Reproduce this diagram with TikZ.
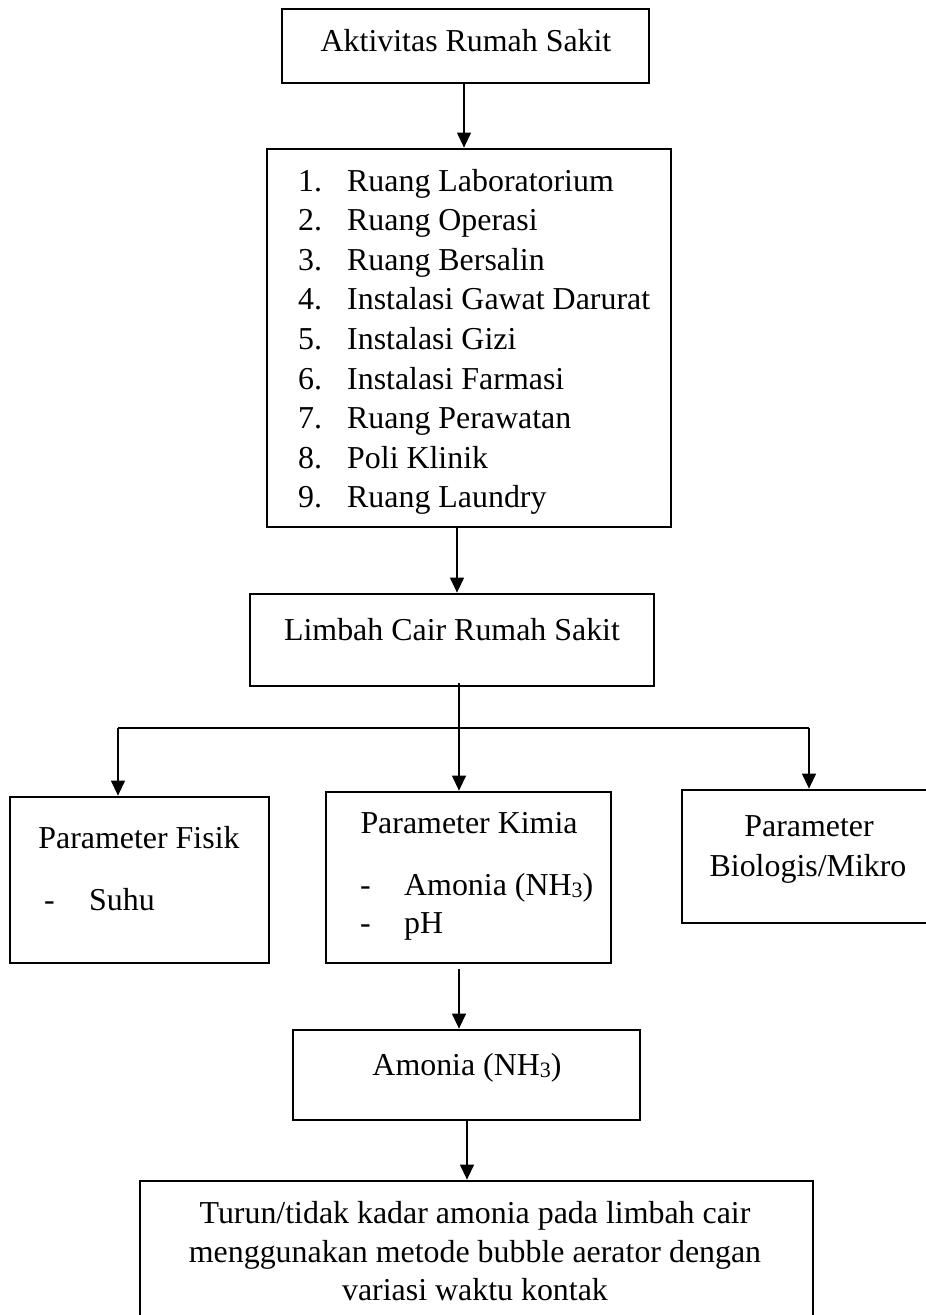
\documentclass[tikz,border=0pt]{standalone}
\usepackage{fontspec}
\setmainfont{Liberation Serif}
\usetikzlibrary{arrows.meta}
\newcommand\figfont{\fontsize{31.9pt}{39.5pt}\selectfont}
\begin{document}
\begin{tikzpicture}[x=1pt,y=-1pt,
  box/.style={draw, line width=2.8pt, inner sep=0pt, rectangle},
  txt/.style={inner sep=0pt, anchor=base, font=\figfont},
  ltxt/.style={inner sep=0pt, anchor=base west, font=\figfont},
  arr/.style={line width=1.3pt, -{Triangle[width=14pt,length=15pt]}},
  ln/.style={line width=1.3pt}]
\useasboundingbox (0,0) rectangle (926,1315);
% boxes
\node[box, minimum width=367pt, minimum height=74pt]  (akt)    at (465.5,46)   {};
\node[box, minimum width=404pt, minimum height=378pt] (list)   at (469,338)    {};
\node[box, minimum width=404pt, minimum height=92pt]  (limbah) at (452,640)    {};
\node[box, minimum width=259pt, minimum height=166pt] (fisik)  at (139.5,880)  {};
\node[box, minimum width=285pt, minimum height=171pt] (kimia)  at (468.5,877.5){};
\node[box, minimum width=250pt, minimum height=133pt] (bio)    at (807,856.5)  {};
\node[box, minimum width=347pt, minimum height=90pt]  (amon)   at (466.5,1075) {};
\node[box, minimum width=673pt, minimum height=154pt] (hasil)  at (476.5,1258) {};
% texts
\node[txt] (takt) at (466,51) {Aktivitas Rumah Sakit};
\foreach \i/\t in {1/Ruang Laboratorium,2/Ruang Operasi,3/Ruang Bersalin,4/Instalasi Gawat Darurat,5/Instalasi Gizi,6/Instalasi Farmasi,7/Ruang Perawatan,8/Poli Klinik,9/Ruang Laundry}{
  \node[ltxt] (l\i) at (298,{191+39.6*(\i-1)}) {\makebox[49pt][l]{\i.}\t};
}
\node[txt] (tlimbah) at (452,640) {Limbah Cair Rumah Sakit};
\node[txt] (tfisik) at (139,848) {Parameter Fisik};
\node[ltxt] (tsuhu) at (44,910) {\makebox[45pt][l]{-}Suhu};
\node[txt] (tkimia) at (469,833) {Parameter Kimia};
\node[ltxt] (tnh) at (360,895) {\makebox[44pt][l]{-}Amonia (NH\raisebox{-2pt}{\fontsize{22pt}{22pt}\selectfont 3})};
\node[ltxt] (tph) at (360,933) {\makebox[44pt][l]{-}pH};
\node[txt] (tbio1) at (809,836) {Parameter};
\node[txt] (tbio2) at (808,876) {Biologis/Mikro};
\node[txt] (tamon) at (467,1075) {Amonia (NH\raisebox{-2pt}{\fontsize{22pt}{22pt}\selectfont 3})};
\node[txt] (th1) at (475,1223) {Turun/tidak kadar amonia pada limbah cair};
\node[txt] (th2) at (475,1262) {menggunakan metode bubble aerator dengan};
\node[txt] (th3) at (475,1300) {variasi waktu kontak};
% connector coordinates
\coordinate (c1) at (464,0);
\coordinate (c2) at (457,0);
\coordinate (c3) at (459,0);
\coordinate (c5) at (467,0);
\coordinate (hl) at (118,728);
\coordinate (hr) at (809,728);
% connectors
\draw[arr] (akt.south -| c1) -- (list.north -| c1);
\draw[arr] (list.south -| c2) -- (limbah.north -| c2);
\draw[arr] ([yshift=4pt]limbah.south -| c3) -- (kimia.north -| c3);
\draw[ln] (hl) -- (hr);
\draw[arr] (hl) -- (fisik.north -| hl);
\draw[arr] (hr) -- (bio.north -| hr);
\draw[arr] ([yshift=-5pt]kimia.south -| c3) -- (amon.north -| c3);
\draw[arr] (amon.south -| c5) -- (hasil.north -| c5);
\end{tikzpicture}
\end{document}
